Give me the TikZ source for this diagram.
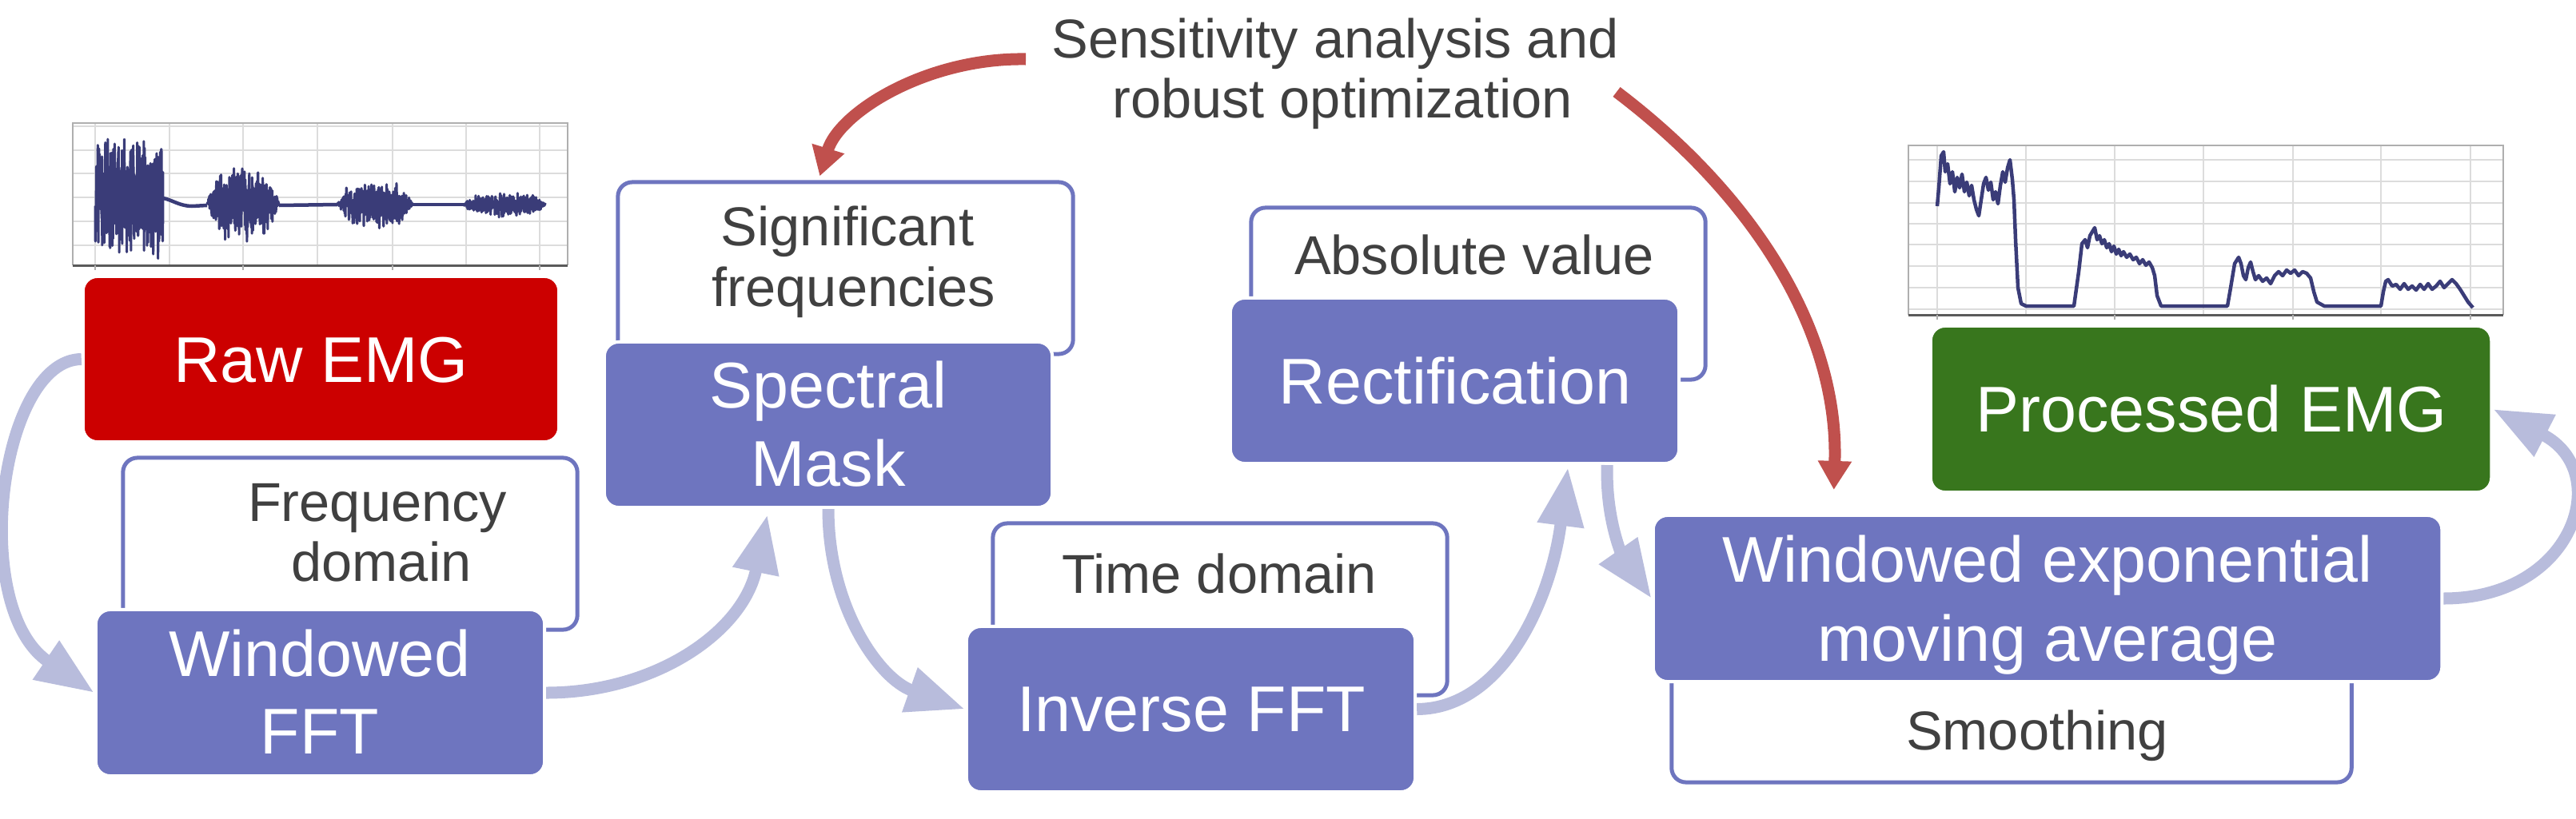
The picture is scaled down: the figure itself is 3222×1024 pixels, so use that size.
\documentclass[tikz,border=0pt]{standalone}
\usepackage{fontspec}
\setmainfont{Liberation Sans}
\usetikzlibrary{arrows.meta,calc}
\definecolor{boxblue}{RGB}{110,117,191}
\definecolor{arrowc}{RGB}{184,188,220}
\definecolor{rawred}{RGB}{204,0,0}
\definecolor{procgreen}{RGB}{56,118,29}
\definecolor{redarrow}{RGB}{192,80,77}
\definecolor{lbltext}{RGB}{64,64,64}
\definecolor{wavec}{RGB}{58,60,120}
\definecolor{gridc}{RGB}{220,220,220}
\definecolor{framec}{RGB}{175,175,175}
\definecolor{axisc}{RGB}{90,90,90}
\tikzset{
 fillbox/.style={rectangle, rounded corners=0.18cm, draw=white, line width=0.04cm, inner sep=0pt, minimum height=2.07cm},
 outbox/.style={rectangle, rounded corners=0.18cm, draw=boxblue, line width=0.05cm, fill=white, inner sep=0pt, minimum height=2.15cm},
 maintxt/.style={text=white, font=\fontsize{23}{27}\selectfont, inner sep=0pt, anchor=base},
 lbltxt/.style={text=lbltext, font=\fontsize{19.5}{23}\selectfont, inner sep=0pt, anchor=base},
 flow/.style={draw=arrowc, line width=0.15cm, -{Triangle[length=0.73cm,width=0.55cm]}},
 tune/.style={draw=redarrow, line width=0.15cm, -{Triangle[length=0.36cm,width=0.40cm]}},
 wave/.style={draw=wavec, line width=0.03cm, line join=round},
 gridline/.style={draw=gridc, line width=0.02cm},
 frameline/.style={draw=framec, line width=0.015cm},
 axisline/.style={draw=axisc, line width=0.03cm},
}
\begin{document}
\begin{tikzpicture}[x=0.01cm, y=-0.01cm]
\fill[white] (0,0) rectangle (3222,1024);
\useasboundingbox (0,0) rectangle (3222,1024);

% ---------- raw EMG plot ----------
\foreach \gx in {119,212,304,397,491,583,675} \draw[gridline] (\gx,154) -- (\gx,332);
\foreach \gy in {158,188,217,247,277,307} \draw[gridline] (91,\gy) -- (710,\gy);
\draw[frameline] (91,332) -- (91,154) -- (710,154) -- (710,332);
\draw[axisline] (91,332) -- (710,332);
\foreach \gx in {119,304,491,675} \draw[frameline] (\gx,332) -- (\gx,338);
\pgfmathsetseed{7}
\draw[wave] plot[domain=119:204, samples=340] (\x, {245+80*rand*(0.5+0.5*rnd)});
\draw[wave] plot[domain=259:349, samples=320] (\x, {254+50*rand*(0.5+0.5*rnd)*(1-(2*(\x-259)/90-1)^4)});
\draw[wave] plot[domain=422:516, samples=320] (\x, {255+32*rand*(0.5+0.5*rnd)*(1-(2*(\x-422)/94-1)^4)});
\draw[wave] plot[domain=579:683, samples=340] (\x, {256+17*rand*(0.5+0.5*rnd)*(1-(2*(\x-579)/104-1)^4)});
\draw[wave, line width=0.045cm] (204,248) .. controls (215,250) and (225,258) .. (240,258) -- (259,257);
\draw[wave, line width=0.045cm] (349,257) -- (422,256);
\draw[wave, line width=0.045cm] (516,256) -- (579,256);

% ---------- processed EMG plot ----------
\foreach \gx in {2423,2534,2645,2756,2868,2978,3090} \draw[gridline] (\gx,182) -- (\gx,394);
\foreach \gy in {200,227,254,280,306,333,360,387} \draw[gridline] (2387,\gy) -- (3131,\gy);
\draw[frameline] (2387,394) -- (2387,182) -- (3131,182) -- (3131,394);
\draw[axisline] (2387,394) -- (3131,394);
\foreach \gx in {2423,2645,2868,3090} \draw[frameline] (\gx,394) -- (\gx,400);
\draw[wave, line width=0.045cm] (2423,258) -- (2425,235) -- (2428,195) -- (2431,190) -- (2433,215) -- (2436,205) -- (2439,230) -- (2442,215) -- (2445,240) -- (2448,222) -- (2451,235) -- (2454,218) -- (2457,240) -- (2460,228) -- (2463,245) -- (2466,232) -- (2469,250) -- (2472,262) -- (2475,270) -- (2478,250) -- (2481,230) -- (2484,222) -- (2487,238) -- (2490,228) -- (2493,250) -- (2496,240) -- (2499,255) -- (2502,232) -- (2505,215) -- (2508,228) -- (2511,210) -- (2514,200) -- (2517,225) -- (2519,250) -- (2521,300) -- (2524,360) -- (2528,380) -- (2534,383) -- (2594,383) -- (2600,340) -- (2604,305) -- (2608,300) -- (2611,310) -- (2614,295) -- (2617,290) -- (2620,285) -- (2623,300) -- (2626,295) -- (2629,305) -- (2632,300) -- (2635,310) -- (2638,305) -- (2641,315) -- (2644,308) -- (2647,318) -- (2650,312) -- (2653,320) -- (2656,315) -- (2660,322) -- (2664,318) -- (2668,325) -- (2672,322) -- (2676,330) -- (2680,325) -- (2684,332) -- (2688,328) -- (2692,335) -- (2695,345) -- (2698,370) -- (2703,383) -- (2786,383) -- (2790,360) -- (2795,330) -- (2800,322) -- (2803,330) -- (2806,345) -- (2809,350) -- (2812,335) -- (2815,328) -- (2818,340) -- (2821,350) -- (2825,345) -- (2830,352) -- (2835,348) -- (2840,355) -- (2845,345) -- (2850,340) -- (2855,345) -- (2860,338) -- (2865,342) -- (2870,338) -- (2875,345) -- (2880,340) -- (2885,342) -- (2890,348) -- (2894,365) -- (2898,378) -- (2907,383) -- (2978,383) -- (2981,365) -- (2984,352) -- (2987,350) -- (2992,358) -- (2997,356) -- (3002,362) -- (3007,355) -- (3012,362) -- (3017,358) -- (3022,363) -- (3027,356) -- (3032,362) -- (3037,355) -- (3042,362) -- (3047,358) -- (3052,352) -- (3057,360) -- (3062,355) -- (3067,350) -- (3072,355) -- (3077,362) -- (3082,370) -- (3087,378) -- (3093,385);

% ---------- outline (annotation) boxes ----------
\node[outbox, minimum width=5.68cm] (freq) at (438,680.5) {};
\node[outbox, minimum width=5.69cm] (sig) at (1057.5,335.5) {};
\node[outbox, minimum width=5.68cm] (time) at (1526,762.5) {};
\node[outbox, minimum width=5.68cm] (abs) at (1849,367.5) {};
\node[outbox, minimum width=8.50cm] (smooth) at (2516,871.5) {};

% ---------- process boxes ----------
\node[fillbox, fill=rawred, minimum width=5.95cm] (raw) at (401.5,449.5) {};
\node[fillbox, fill=boxblue, minimum width=5.61cm, minimum height=2.08cm] (fft) at (400.5,867) {};
\node[fillbox, fill=boxblue, minimum width=5.60cm] (spec) at (1036,531.5) {};
\node[fillbox, fill=boxblue, minimum width=5.61cm] (inv) at (1489.5,887.5) {};
\node[fillbox, fill=boxblue, minimum width=5.61cm] (rect) at (1819.5,476.5) {};
\node[fillbox, fill=boxblue, minimum width=9.86cm, minimum height=2.08cm] (wema) at (2561,749) {};
\node[fillbox, fill=procgreen, minimum width=7.01cm, minimum height=2.08cm] (proc) at (2765.5,512) {};

% ---------- texts ----------
\node[maintxt] (rawT) at (401.5,478) {Raw EMG};
\node[maintxt] (fftT1) at (400,846) {Windowed};
\node[maintxt] (fftT2) at (400,943) {FFT};
\node[maintxt] (specT1) at (1036,510) {Spectral};
\node[maintxt] (specT2) at (1036,608) {Mask};
\node[maintxt] (invT) at (1490,915) {Inverse FFT};
\node[maintxt] (rectT) at (1820,505) {Rectification};
\node[maintxt] (wemaT1) at (2561,728) {Windowed exponential};
\node[maintxt] (wemaT2) at (2561,827) {moving average};
\node[maintxt] (procT) at (2766,540) {Processed EMG};

\node[lbltxt] (freqT1) at (472,652) {Frequency};
\node[lbltxt] (freqT2) at (477,727) {domain};
\node[lbltxt] (sigT1) at (1060,307) {Significant};
\node[lbltxt] (sigT2) at (1068,383) {frequencies};
\node[lbltxt] (timeT) at (1525,742) {Time domain};
\node[lbltxt] (absT) at (1844,343) {Absolute value};
\node[lbltxt] (smoothT) at (2548,938) {Smoothing};
\node[lbltxt] (sensT1) at (1670,72) {Sensitivity analysis and};
\node[lbltxt] (sensT2) at (1679,147) {robust optimization};

% ---------- flow connectors ----------
\draw[flow] (raw.west) .. controls (0,450) and (-40,760) .. (fft.west);
\draw[flow] (fft.east) .. controls (820,867) and (930,790) .. ($(spec.south west)+(206,7)$);
\draw[flow] (spec.south) .. controls (1036,760) and (1100,850) .. (inv.west);
\draw[flow] (inv.east) .. controls (1880,887) and (1940,750) .. ($(rect.south east)+(-141,3)$);
\draw[flow] ($(rect.south east)+(-92,0)$) .. controls (2008,660) and (2035,705) .. (wema.west);
\draw[flow] (wema.east) .. controls (3220,749) and (3270,590) .. (proc.east);

% ---------- sensitivity connectors ----------
\coordinate (r1s) at (1283,74);
\coordinate (r2s) at (2022,115);
\draw[tune] (r1s) .. controls (1160,72) and (1050,140) .. ($(sig.north west)+(255,-5)$);
\draw[tune] (r2s) .. controls (2200,250) and (2300,420) .. ($(wema.north west)+(228,-30)$);
\end{tikzpicture}
\end{document}
